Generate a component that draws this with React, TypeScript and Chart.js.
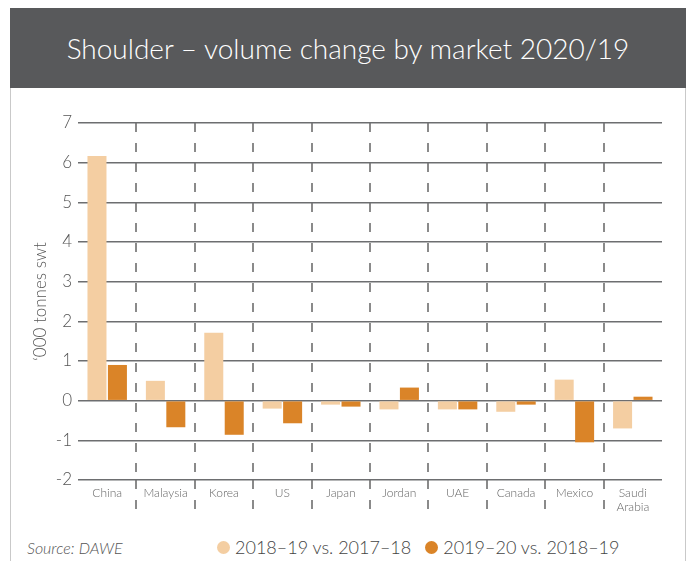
import React, { useEffect, useRef } from "react";
import { Chart, registerables } from "chart.js";

Chart.register(...registerables);

const categories: (string | string[])[] = [
  "China",
  "Malaysia",
  "Korea",
  "US",
  "Japan",
  "Jordan",
  "UAE",
  "Canada",
  "Mexico",
  ["Saudi", "Arabia"],
];
const series1Label = "2018–19 vs. 2017–18";
const series2Label = "2019–20 vs. 2018–19";
const series1 = [6.17, 0.5, 1.71, -0.2, -0.1, -0.22, -0.22, -0.28, 0.53, -0.7];
const series2 = [0.9, -0.67, -0.86, -0.57, -0.15, 0.33, -0.22, -0.1, -1.05, 0.1];
const yMin = -2;
const yMax = 7;

const LIGHT = "#f4cea2";
const DARK = "#da8428";
const FONT = "Lato, 'Open Sans', sans-serif";

export default function App() {
  const ref = useRef<HTMLCanvasElement | null>(null);

  useEffect(() => {
    if (!ref.current) return;
    const dividerColor = (ctx: any) =>
      ctx.type !== "tick" || ctx.index === 0 ? "rgba(0,0,0,0)" : "#8a8a8a";
    const chart = new Chart(ref.current, {
      type: "bar",
      data: {
        labels: categories,
        datasets: [
          {
            label: series1Label,
            data: series1,
            backgroundColor: LIGHT,
            categoryPercentage: 0.7,
            barPercentage: 0.93,
          },
          {
            label: series2Label,
            data: series2,
            backgroundColor: DARK,
            categoryPercentage: 0.7,
            barPercentage: 0.93,
          },
        ],
      },
      options: {
        responsive: false,
        animation: false,
        layout: { padding: { top: 35, right: 24, left: 0, bottom: 0 } },
        plugins: {
          legend: { display: false },
          tooltip: { enabled: false },
        },
        scales: {
          x: {
            offset: true,
            grid: {
              offset: true,
              color: dividerColor,
              tickColor: dividerColor,
              lineWidth: 2,
              tickWidth: 2,
              tickLength: 35,
              tickBorderDash: [9, 11],
              drawTicks: true,
            },
            border: { display: false, dash: [9, 11] },
            ticks: {
              color: "#666",
              font: { family: FONT, size: 12, weight: 300 },
              padding: -29,
              maxRotation: 0,
              autoSkip: false,
            },
            afterFit: (s: any) => {
              s.height = 50;
            },
          },
          y: {
            min: yMin,
            max: yMax,
            grid: {
              color: "#6d6e70",
              lineWidth: 1.5,
              drawTicks: false,
            },
            border: { display: false },
            ticks: {
              stepSize: 1,
              color: "#555",
              font: { family: FONT, size: 17, weight: 300 },
              padding: 6,
            },
            title: {
              display: true,
              text: "‘000 tonnes swt",
              color: "#555",
              font: { family: FONT, size: 17, weight: 300 },
              padding: { top: 20, bottom: 0 },
            },
            afterFit: (s: any) => {
              s.width = 68;
            },
          },
        },
      },
    });
    return () => chart.destroy();
  }, []);

  const dot = (c: string) => (
    <span
      style={{
        display: "inline-block",
        width: 13,
        height: 13,
        borderRadius: "50%",
        background: c,
        marginRight: 5,
      }}
    />
  );

  return (
    <div
      style={{
        position: "relative",
        width: 676,
        height: 553,
        marginLeft: 2,
        fontFamily: FONT,
      }}
    >
      <div
        style={{
          position: "absolute",
          left: 0,
          top: 0,
          width: 676,
          height: 80,
          background: "#58595b",
          color: "#fff",
          fontSize: 28,
          fontWeight: 300,
          display: "flex",
          alignItems: "center",
          justifyContent: "center",
        }}
      >
        Shoulder – volume change by market 2020/19
      </div>
      <div
        style={{
          position: "absolute",
          left: 0,
          top: 80,
          width: 676,
          height: 473,
          boxSizing: "border-box",
          borderLeft: "1px solid #c9c9c9",
          borderRight: "1px solid #c9c9c9",
        }}
      />
      <canvas
        ref={ref}
        width={676}
        height={442}
        style={{ position: "absolute", left: 0, top: 80, width: 676, height: 442 }}
      />
      <div
        style={{
          position: "absolute",
          left: 17,
          top: 529,
          height: 20,
          display: "flex",
          alignItems: "center",
          fontStyle: "italic",
          fontWeight: 300,
          fontSize: 16,
          color: "#555",
        }}
      >
        Source: DAWE
      </div>
      <div
        style={{
          position: "absolute",
          left: 207,
          top: 528,
          height: 22,
          display: "flex",
          alignItems: "center",
          fontSize: 18,
          fontWeight: 300,
          color: "#444",
          whiteSpace: "nowrap",
        }}
      >
        {dot(LIGHT)}
        <span style={{ marginRight: 14 }}>{series1Label}</span>
        {dot(DARK)}
        <span>{series2Label}</span>
      </div>
    </div>
  );
}
